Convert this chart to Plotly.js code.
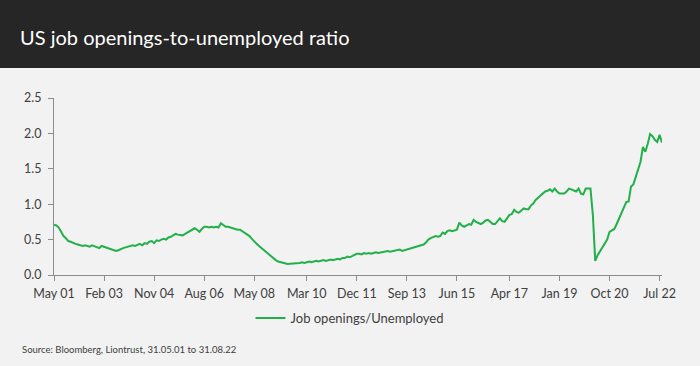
<!DOCTYPE html>
<html>
<head>
<meta charset="utf-8">
<script src="https://cdn.plot.ly/plotly-3.0.1.min.js"></script>
<style>
  html, body { margin: 0; padding: 0; background: #f2f2f2; }
  #chart { width: 700px; height: 366px; }
</style>
</head>
<body>
<div id="chart"></div>
<script>
// Monthly series: May 2001 .. Aug 2022
const startYear = 2001;
const startMonth = 5;
const seriesName = "Job openings/Unemployed";

const v2001 = [0.71,0.70,0.67,0.60,0.55,0.52,0.48,0.47];
const v2002 = [0.45,0.44,0.43,0.42,0.41,0.42,0.41,0.40,0.42,0.41,0.40,0.38];
const v2003 = [0.41,0.40,0.38,0.37,0.36,0.35,0.34,0.35,0.37,0.38,0.39,0.40];
const v2004 = [0.41,0.42,0.41,0.43,0.44,0.42,0.45,0.44,0.47,0.48,0.45,0.49];
const v2005 = [0.48,0.50,0.51,0.50,0.53,0.54,0.56,0.58,0.57,0.57,0.56,0.58];
const v2006 = [0.60,0.63,0.64,0.66,0.64,0.61,0.65,0.68,0.68,0.67,0.68,0.67];
const v2007 = [0.68,0.67,0.73,0.70,0.68,0.68,0.67,0.66,0.64,0.64,0.64,0.62];
const v2008 = [0.60,0.58,0.55,0.51,0.47,0.44,0.41,0.38,0.35,0.32,0.29,0.27];
const v2009 = [0.24,0.21,0.19,0.18,0.17,0.16,0.155,0.16,0.16,0.165,0.17,0.17];
const v2010 = [0.18,0.17,0.18,0.19,0.18,0.19,0.20,0.19,0.20,0.21,0.20,0.21];
const v2011 = [0.22,0.21,0.22,0.23,0.22,0.24,0.24,0.26,0.25,0.27,0.29,0.30];
const v2012 = [0.30,0.29,0.31,0.30,0.31,0.30,0.31,0.32,0.31,0.32,0.33,0.33];
const v2013 = [0.34,0.33,0.34,0.35,0.35,0.36,0.34,0.35,0.36,0.37,0.37,0.38];
const v2014 = [0.39,0.40,0.41,0.43,0.46,0.50,0.52,0.53,0.55,0.54,0.55,0.60];
const v2015 = [0.58,0.62,0.63,0.62,0.63,0.64,0.74,0.70,0.68,0.70,0.72,0.71];
const v2016 = [0.78,0.75,0.73,0.72,0.74,0.77,0.78,0.75,0.72,0.72,0.76,0.80];
const v2017 = [0.76,0.75,0.80,0.85,0.86,0.92,0.89,0.88,0.91,0.94,0.93,0.93];
const v2018 = [0.98,1.01,1.06,1.09,1.12,1.14,1.18,1.19,1.21,1.18,1.22,1.18];
const v2019 = [1.15,1.15,1.15,1.18,1.22,1.21,1.20,1.18,1.22,1.15,1.14,1.22];
const v2020 = [1.22,1.22,0.85,0.20,0.28,0.34,0.40,0.45,0.50,0.61,0.63,0.65];
const v2021 = [0.72,0.80,0.88,0.96,1.03,1.04,1.25,1.28,1.38,1.48,1.60,1.81];
const v2022 = [1.74,1.85,1.99,1.96,1.91,1.88,1.98,1.87];

const tickMonths = ['2001-05','2003-02','2004-11','2006-08','2008-05','2010-03','2011-12','2013-09','2015-06','2017-04','2019-01','2020-10','2022-07'];
const tickLabels = ['May 01','Feb 03','Nov 04','Aug 06','May 08','Mar 10','Dec 11','Sep 13','Jun 15','Apr 17','Jan 19','Oct 20','Jul 22'];

const titleText = 'US job openings-to-unemployed ratio';
const sourceText = 'Source: Bloomberg, Liontrust, 31.05.01 to 31.08.22';

const values = [].concat(v2001,v2002,v2003,v2004,v2005,v2006,v2007,v2008,v2009,v2010,v2011,
  v2012,v2013,v2014,v2015,v2016,v2017,v2018,v2019,v2020,v2021,v2022);

const months = [];
{
  let y = startYear, m = startMonth;
  for (let i = 0; i < values.length; i++) {
    months.push(y + '-' + String(m).padStart(2, '0'));
    m++; if (m > 12) { m = 1; y++; }
  }
}

const W = 700, H = 366;
const L = 54, R = 38, T = 98, B = 91;
const pw = W - L - R, ph = H - T - B;
const FONT = "Lato, 'Open Sans', 'DejaVu Sans', sans-serif";

const trace = {
  x: months, y: values, type: 'scatter', mode: 'lines',
  name: seriesName,
  line: { color: '#22b04b', width: 2 },
  showlegend: true
};

const layout = {
  width: W, height: H,
  margin: { l: L, r: R, t: T, b: B, pad: 0 },
  paper_bgcolor: '#f2f2f2',
  plot_bgcolor: 'rgba(0,0,0,0)',
  font: { family: FONT, size: 12, color: '#404040' },
  title: {
    text: titleText,
    font: { family: FONT, size: 20, color: '#ffffff' },
    xref: 'container', yref: 'container',
    x: 20 / W, xanchor: 'left',
    y: 1 - 38 / H, yanchor: 'middle'
  },
  xaxis: {
    type: 'category',
    range: [0, values.length - 1],
    tickvals: tickMonths, ticktext: tickLabels,
    ticks: 'outside', ticklen: 5, tickcolor: '#8c8c8c', tickwidth: 1,
    showline: true, linecolor: '#8c8c8c', linewidth: 1,
    showgrid: false, zeroline: false,
    tickfont: { family: FONT, size: 12.5, color: '#404040' },
    tickangle: 0,
    ticklabelstandoff: 2
  },
  yaxis: {
    range: [0, 2.5], dtick: 0.5, tick0: 0, tickformat: '.1f',
    ticks: 'outside', ticklen: 5, tickcolor: '#8c8c8c', tickwidth: 1,
    showline: true, linecolor: '#8c8c8c', linewidth: 1,
    showgrid: false, zeroline: false,
    tickfont: { family: FONT, size: 12.5, color: '#404040' },
    ticklabelstandoff: 4
  },
  legend: {
    orientation: 'h',
    xref: 'container', yref: 'container',
    x: 0.5, xanchor: 'center',
    y: 1 - 318 / H, yanchor: 'middle',
    bgcolor: 'rgba(0,0,0,0)',
    font: { family: FONT, size: 13, color: '#404040' },
    itemwidth: 30
  },
  shapes: [{
    type: 'rect', xref: 'paper', yref: 'paper', layer: 'below',
    x0: -L / pw, x1: (W - L) / pw,
    y0: (H - B - 68) / ph, y1: (H - B) / ph,
    fillcolor: '#262626', line: { width: 0 }
  }],
  annotations: [{
    text: sourceText, showarrow: false,
    xref: 'paper', yref: 'paper',
    x: (20 - L) / pw, xanchor: 'left',
    y: (H - B - 349) / ph, yanchor: 'middle',
    font: { family: FONT, size: 9.5, color: '#404040' }
  }]
};

Plotly.newPlot('chart', [trace], layout, { displayModeBar: false, staticPlot: true });
</script>
</body>
</html>
